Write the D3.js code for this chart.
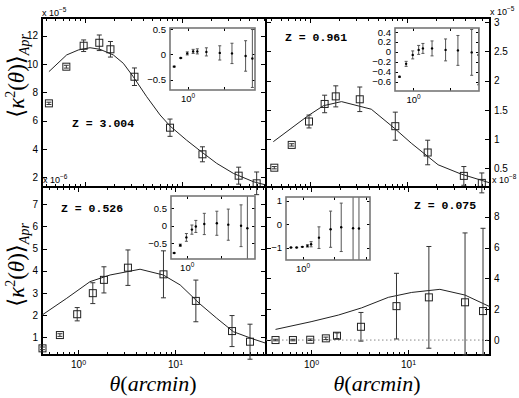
<!DOCTYPE html>
<html>
<head>
<meta charset="utf-8">
<script src="https://cdn.jsdelivr.net/npm/d3@7"></script>
<style>
  body { margin: 0; background: #fff; }
</style>
</head>
<body>
<div id="chart"></div>
<script>
// angular scales in arcmin, shared by all four panels and insets
var theta = [0.43, 0.65, 0.98, 1.42, 1.85, 3.27, 7.6, 16.4, 38.7, 59.3];

// z = 3.004  (x 1e-5)
var z3Val = [7.22, 9.81, 11.29, 11.5, 11.04, 9.1, 5.5, 3.62, 2.11, 1.57];
var z3Err = [0.08, 0.1, 0.41, 0.55, 0.55, 0.62, 0.61, 0.53, 0.6, 0.8];
var z3CurveX = [0.43, 0.655, 0.863, 1.14, 1.44, 1.98, 2.51, 3.18, 4.37, 6.0, 7.6, 11.2, 15.5, 23, 34.2, 55, 74];
var z3CurveY = [9.46, 10.64, 10.99, 11.15, 11.04, 10.64, 10.05, 9.1, 7.69, 6.4, 5.62, 4.63, 3.87, 2.98, 2.27, 1.68, 1.45];
var z3InVal = [-0.24, -0.07, 0.02, 0.06, 0.06, 0.05, 0.03, 0.02, -0.03, -0.08];
var z3InErr = [0.01, 0.01, 0.03, 0.04, 0.05, 0.08, 0.14, 0.2, 0.3, 0.57];

// z = 0.961  (x 1e-5)
var z096Val = [0.51, 0.90, 1.30, 1.60, 1.73, 1.68, 1.22, 0.77, 0.37, 0.25];
var z096Err = [0.02, 0.02, 0.11, 0.15, 0.18, 0.21, 0.24, 0.21, 0.16, 0.17];
var z096CurveX = [0.42, 0.96, 1.38, 2.12, 4.3, 7.5, 11.1, 21, 36.4, 72];
var z096CurveY = [0.955, 1.40, 1.57, 1.64, 1.51, 1.18, 0.93, 0.56, 0.40, 0.25];
var z096InVal = [-0.5, -0.24, -0.06, 0.04, 0.07, 0.07, 0.04, 0.03, -0.01, -0.06];
var z096InErr = [0.01, 0.05, 0.08, 0.09, 0.1, 0.15, 0.22, 0.3, 0.46, 0.6];

// z = 0.526  (x 1e-6)
var z052Val = [0.50, 1.10, 2.04, 2.99, 3.59, 4.14, 3.84, 2.64, 1.28, 0.80];
var z052Err = [0.06, 0.06, 0.3, 0.47, 0.59, 0.8, 1.06, 0.94, 0.7, 0.79];
var z052CurveX = [0.425, 0.765, 1.33, 2.14, 4.36, 7.57, 11.3, 18.1, 26.9, 40, 64, 86.7];
var z052CurveY = [2.0, 2.76, 3.51, 3.81, 4.07, 3.81, 3.36, 2.50, 1.86, 1.25, 0.92, 0.73];
var z052InVal = [-0.77, -0.55, -0.33, -0.11, -0.02, 0.05, 0.07, 0.03, 0.0, -0.07];
var z052InErr = [0.01, 0.03, 0.11, 0.13, 0.17, 0.3, 0.34, 0.44, 0.59, 1.0];

// z = 0.075  (x 1e-8)
var z007Val = [0, 0, 0.02, 0.11, 0.28, 0.86, 2.2, 2.77, 2.45, 1.88];
var z007ErrLo = [0.05, 0.05, 0.05, 0.08, 0.18, 0.93, 2.13, 3.3, 3.42, 2.85];
var z007ErrHi = [0.05, 0.05, 0.05, 0.08, 0.18, 0.93, 2.13, 3.3, 4.5, 5.37];
var z007CurveX = [0.43, 1.0, 1.91, 3.33, 6.26, 10.9, 21.3, 38.6, 70];
var z007CurveY = [0.69, 1.19, 1.62, 2.09, 2.77, 3.09, 3.29, 2.92, 2.16];
var z007InVal = [-0.99, -0.99, -0.96, -0.92, -0.85, -0.57, -0.21, -0.13, -0.17, -0.18];
var z007InErr = [0.01, 0.01, 0.01, 0.05, 0.11, 0.46, 0.77, 1.03, 3, 3];

// tick labels
var z3Ticks = [2, 4, 6, 8, 10, 12];
var z096Ticks = [0.5, 1, 1.5, 2, 2.5, 3];
var z052Ticks = [1, 2, 3, 4, 5, 6, 7];
var z007Ticks = [0, 2, 4, 6, 8];
var insetTicksA = [-0.5, 0, 0.5];
var insetTicksB = [-0.6, -0.4, -0.2, 0, 0.2, 0.4];
var insetTicksC = [-1, 0, 1];

var panels = [
    {name: "tl", left: 42, right: 266, top: 18, bottom: 187, xDom: [0.365, 74], yDom: [1.31, 13.25],
     side: "left", xLabels: false, val: z3Val, lo: z3Err, hi: z3Err, cx: z3CurveX, cy: z3CurveY,
     yTicks: z3Ticks, z: "Z = 3.004", zx: 72, zy: 127, expo: "\u22125", ex: 42, ey: 16,
     inset: {left: 170, right: 255, top: 28, bottom: 90, xDom: [0.33, 70], yDom: [-0.7, 0.52],
             ticks: insetTicksA, val: z3InVal, err: z3InErr}},
    {name: "tr", left: 266, right: 490, top: 18, bottom: 187, xDom: [0.353, 72], yDom: [0.18, 3.07],
     side: "right", xLabels: false, val: z096Val, lo: z096Err, hi: z096Err, cx: z096CurveX, cy: z096CurveY,
     yTicks: z096Ticks, z: "Z = 0.961", zx: 285, zy: 41, expo: "\u22125", ex: 490, ey: 15,
     inset: {left: 395, right: 479, top: 28, bottom: 91, xDom: [0.325, 61], yDom: [-0.785, 0.48],
             ticks: insetTicksB, val: z096InVal, err: z096InErr}},
    {name: "bl", left: 42, right: 266, top: 187, bottom: 355, xDom: [0.425, 86.7], yDom: [0.2, 7.78],
     side: "left", xLabels: true, val: z052Val, lo: z052Err, hi: z052Err, cx: z052CurveX, cy: z052CurveY,
     yTicks: z052Ticks, z: "Z = 0.526", zx: 61, zy: 211.5, expo: "\u22126", ex: 43, ey: 183,
     inset: {left: 171, right: 255, top: 196, bottom: 259, xDom: [0.348, 99], yDom: [-0.94, 0.84],
             ticks: insetTicksA, val: z052InVal, err: z052InErr}},
    {name: "br", left: 266, right: 490, top: 187, bottom: 355, xDom: [0.343, 70], yDom: [-0.97, 9.93],
     side: "right", xLabels: true, val: z007Val, lo: z007ErrLo, hi: z007ErrHi, cx: z007CurveX, cy: z007CurveY,
     yTicks: z007Ticks, z: "Z = 0.075", zx: 414, zy: 209, expo: "\u22128", ex: 492, ey: 183, zeroLine: true,
     inset: {left: 286, right: 370, top: 197, bottom: 260, xDom: [0.3, 132], yDom: [-1.52, 1.16],
             ticks: insetTicksC, val: z007InVal, err: z007InErr}}
];

var svg = d3.select("#chart").append("svg")
    .attr("width", 519)
    .attr("height", 398)
    .style("font-family", "'Liberation Sans', Arial, sans-serif");

var serif = "'Liberation Serif', 'DejaVu Serif', 'Times New Roman', serif";

function logTicks(dom) {
    var major = [], minor = [];
    for (var k = -1; k <= 2; k++) {
        for (var m = 1; m <= 9; m++) {
            var v = m * Math.pow(10, k);
            if (v >= dom[0] && v <= dom[1]) (m === 1 ? major : minor).push(v);
        }
    }
    return {major: major, minor: minor};
}

function axisG(parent, ax, tx, ty, fs) {
    var g = parent.append("g")
        .attr("transform", "translate(" + tx + "," + ty + ")")
        .call(ax);
    g.select(".domain").remove();
    g.attr("font-family", null).attr("font-size", null);
    g.selectAll(".tick line").attr("stroke", "#000").style("shape-rendering", "crispEdges");
    g.selectAll(".tick text").attr("fill", "#000").style("font-size", (fs || 10) + "px");
    return g;
}

// "10" with the exponent raised
function powLabels(g, sz) {
    g.selectAll(".tick text").each(function(d) {
        var t = d3.select(this).text(null);
        t.append("tspan").text("10");
        t.append("tspan").attr("dy", "-0.5em").style("font-size", sz + "px")
            .text(Math.round(Math.log10(d)));
    });
}

function drawPanel(p) {
    var x = d3.scaleLog().domain(p.xDom).range([p.left, p.right]);
    var y = d3.scaleLinear().domain(p.yDom).range([p.bottom, p.top]);
    var g = svg.append("g").attr("class", "panel " + p.name);

    svg.append("clipPath").attr("id", "clip-" + p.name)
        .append("rect")
        .attr("x", p.left).attr("y", p.top)
        .attr("width", p.right - p.left).attr("height", p.bottom - p.top);

    // log ticks on top and bottom, pointing in
    var lt = logTicks(p.xDom);
    [[d3.axisBottom, p.bottom], [d3.axisTop, p.top]].forEach(function(a) {
        axisG(g, a[0](x).tickValues(lt.minor).tickSize(-3).tickFormat(""), 0, a[1]);
        axisG(g, a[0](x).tickValues(lt.major).tickSize(-5).tickFormat(""), 0, a[1]);
    });
    if (p.xLabels) {
        var xl = axisG(g, d3.axisBottom(x).tickValues(lt.major).tickSize(0).tickPadding(6), 0, p.bottom);
        powLabels(xl, 7);
    }

    // y ticks, labelled on one side, mirrored on the other
    var left = p.side === "left";
    axisG(g, (left ? d3.axisLeft(y) : d3.axisRight(y)).tickValues(p.yTicks)
        .tickSize(-5).tickPadding(4).tickFormat(d3.format("")), left ? p.left : p.right, 0);
    axisG(g, (left ? d3.axisRight(y) : d3.axisLeft(y)).tickValues(p.yTicks)
        .tickSize(-5).tickFormat(""), left ? p.right : p.left, 0);

    g.append("rect")
        .attr("x", p.left).attr("y", p.top)
        .attr("width", p.right - p.left).attr("height", p.bottom - p.top)
        .attr("fill", "none").attr("stroke", "#000").attr("stroke-width", 1.1)
        .style("shape-rendering", "crispEdges");

    if (p.zeroLine) {
        g.append("line")
            .attr("x1", p.left).attr("x2", p.right)
            .attr("y1", y(0)).attr("y2", y(0))
            .attr("stroke", "#888").attr("stroke-dasharray", "1.5,2.5");
    }

    var line = d3.line().x(function(d) { return x(d[0]); }).y(function(d) { return y(d[1]); });
    g.append("path")
        .datum(d3.zip(p.cx, p.cy))
        .attr("clip-path", "url(#clip-" + p.name + ")")
        .attr("d", line)
        .attr("fill", "none").attr("stroke", "#222").attr("stroke-width", 1);

    var pts = theta.map(function(t, i) { return {t: t, v: p.val[i], lo: p.lo[i], hi: p.hi[i]}; });
    var bars = g.selectAll(".bar").data(pts).enter().append("g").attr("class", "bar");
    bars.append("line")
        .attr("x1", function(d) { return x(d.t); }).attr("x2", function(d) { return x(d.t); })
        .attr("y1", function(d) { return y(d.v - d.lo); }).attr("y2", function(d) { return y(d.v + d.hi); });
    bars.append("line")
        .attr("x1", function(d) { return x(d.t) - 2.5; }).attr("x2", function(d) { return x(d.t) + 2.5; })
        .attr("y1", function(d) { return y(d.v + d.hi); }).attr("y2", function(d) { return y(d.v + d.hi); });
    bars.append("line")
        .attr("x1", function(d) { return x(d.t) - 2.5; }).attr("x2", function(d) { return x(d.t) + 2.5; })
        .attr("y1", function(d) { return y(d.v - d.lo); }).attr("y2", function(d) { return y(d.v - d.lo); });
    bars.selectAll("line").attr("stroke", "#333").attr("stroke-width", 1);
    bars.append("rect")
        .attr("x", function(d) { return x(d.t) - 3.5; })
        .attr("y", function(d) { return y(d.v) - 3.5; })
        .attr("width", 7).attr("height", 7)
        .attr("fill", "none").attr("stroke", "#222").attr("stroke-width", 1);

    svg.append("text")
        .attr("x", p.zx).attr("y", p.zy)
        .style("font-family", "'Liberation Mono', 'Courier New', monospace")
        .style("font-weight", "bold").style("font-size", "11.5px")
        .text(p.z);

    var ex = svg.append("text").attr("x", p.ex).attr("y", p.ey).style("font-size", "9px");
    ex.append("tspan").text("x 10");
    ex.append("tspan").attr("dy", -4).style("font-size", "6.5px").text(p.expo);

    drawInset(p.name, p.inset);
}

function drawInset(name, s) {
    var x = d3.scaleLog().domain(s.xDom).range([s.left, s.right]);
    var y = d3.scaleLinear().domain(s.yDom).range([s.bottom, s.top]);
    var g = svg.append("g").attr("class", "inset");
    var w = s.right - s.left, h = s.bottom - s.top;

    g.append("rect").attr("x", s.left).attr("y", s.top).attr("width", w).attr("height", h).attr("fill", "#fff");
    svg.append("clipPath").attr("id", "iclip-" + name)
        .append("rect").attr("x", s.left).attr("y", s.top).attr("width", w).attr("height", h);

    axisG(g, d3.axisLeft(y).tickValues(s.ticks).tickSize(-3).tickPadding(4).tickFormat(d3.format("")), s.left, 0, 9.5);
    axisG(g, d3.axisRight(y).tickValues(s.ticks).tickSize(-3).tickFormat(""), s.right, 0);
    var lt = logTicks(s.xDom);
    axisG(g, d3.axisTop(x).tickValues(lt.major).tickSize(-3).tickFormat(""), 0, s.top);
    var xb = axisG(g, d3.axisBottom(x).tickValues([1]).tickSize(-3).tickPadding(5), 0, s.bottom, 9.5);
    powLabels(xb, 6.5);
    axisG(g, d3.axisBottom(x).tickValues(lt.major.filter(function(v) { return v !== 1; }))
        .tickSize(-3).tickFormat(""), 0, s.bottom);

    var pts = theta.map(function(t, i) { return {t: t, v: s.val[i], e: s.err[i]}; });
    var c = g.append("g").attr("clip-path", "url(#iclip-" + name + ")");
    var b = c.selectAll("g").data(pts).enter().append("g");
    b.append("line")
        .attr("x1", function(d) { return x(d.t); }).attr("x2", function(d) { return x(d.t); })
        .attr("y1", function(d) { return y(d.v - d.e); }).attr("y2", function(d) { return y(d.v + d.e); });
    [1, -1].forEach(function(k) {
        b.append("line")
            .attr("x1", function(d) { return x(d.t) - 1.5; }).attr("x2", function(d) { return x(d.t) + 1.5; })
            .attr("y1", function(d) { return y(d.v + k * d.e); }).attr("y2", function(d) { return y(d.v + k * d.e); });
    });
    b.selectAll("line").attr("stroke", "#555").attr("stroke-width", 1);
    b.append("circle")
        .attr("cx", function(d) { return x(d.t); }).attr("cy", function(d) { return y(d.v); })
        .attr("r", 1.2).attr("fill", "#000");

    g.append("rect").attr("x", s.left).attr("y", s.top).attr("width", w).attr("height", h)
        .attr("fill", "none").attr("stroke", "#777").attr("stroke-width", 1.6);
}

panels.forEach(drawPanel);

// <kappa^2(theta)>_Apr down the left side
function yTitle(cx, cy) {
    var t = svg.append("text")
        .attr("transform", "translate(" + cx + "," + cy + ") rotate(-90)")
        .attr("text-anchor", "middle")
        .style("font-family", serif).style("font-size", "23px");
    t.append("tspan").text("\u27E8");
    t.append("tspan").style("font-style", "italic").text("\u03BA");
    t.append("tspan").attr("dy", -9).style("font-size", "14px").text("2");
    t.append("tspan").attr("dy", 9).text("(");
    t.append("tspan").style("font-style", "italic").text("\u03B8");
    t.append("tspan").text(")\u27E9");
    t.append("tspan").attr("dy", 5).style("font-size", "14px").style("font-style", "italic").text("Apr");
}
yTitle(24, 76);
yTitle(24, 265);

function xTitle(cx) {
    var t = svg.append("text")
        .attr("x", cx).attr("y", 391)
        .attr("text-anchor", "middle")
        .style("font-family", serif).style("font-size", "22px");
    t.append("tspan").style("font-style", "italic").text("\u03B8");
    t.append("tspan").text("(");
    t.append("tspan").style("font-style", "italic").text("arcmin");
    t.append("tspan").text(")");
}
xTitle(153);
xTitle(377);
</script>
</body>
</html>
